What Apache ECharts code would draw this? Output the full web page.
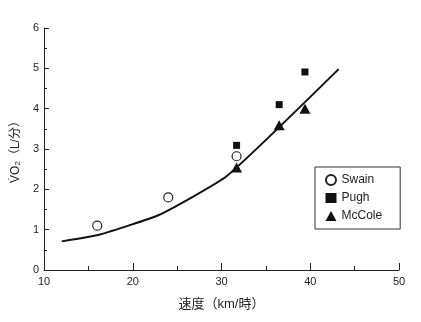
<!DOCTYPE html>
<html><head><meta charset="utf-8">
<script src="https://cdn.jsdelivr.net/npm/echarts@6/dist/echarts.min.js"></script>
<style>html,body{margin:0;padding:0;background:#fff}#c{width:421px;height:322px}</style>
</head><body><div id="c"></div>
<script>
var swain = [[16.0, 1.10], [24.0, 1.80], [31.7, 2.82]];
var pugh = [[31.7, 3.09], [36.5, 4.10], [39.4, 4.91]];
var mccole = [[31.7, 2.54], [36.5, 3.59], [39.4, 4.00]];
var fitLine = [[12.0, 0.71], [16.3, 0.88], [23.0, 1.37], [30.6, 2.33], [43.2, 4.98]];
var xTicks = [10, 20, 30, 40, 50];
var yTicks = [0, 1, 2, 3, 4, 5, 6];

var FONT = '"Liberation Sans", Arial, "Noto Sans CJK JP", sans-serif';
var INK = '#222';
var chart = echarts.init(document.getElementById('c'), null, {renderer: 'canvas'});
chart.setOption({
  animation: false,
  backgroundColor: '#fff',
  textStyle: {fontFamily: FONT, color: INK},
  grid: {left: 44, right: 22, top: 28, bottom: 52, containLabel: false},
  legend: {
    data: ['Swain', 'Pugh', 'McCole'],
    orient: 'vertical', left: 315, top: 167,
    padding: [7, 18, 7, 10], itemGap: 6, itemWidth: 11, itemHeight: 10,
    borderColor: '#333', borderWidth: 1,
    textStyle: {fontSize: 12, color: INK, fontFamily: FONT}
  },
  xAxis: {
    type: 'value', min: xTicks[0], max: xTicks[xTicks.length - 1], interval: 10,
    name: '速度（km/時）', nameLocation: 'middle', nameGap: 28,
    nameTextStyle: {fontSize: 13, color: INK, fontFamily: FONT},
    axisLine: {lineStyle: {color: INK, width: 1}},
    axisTick: {show: true, inside: true, length: 7, lineStyle: {color: INK}},
    minorTick: {show: true, splitNumber: 2, length: 4, lineStyle: {color: INK}},
    axisLabel: {fontSize: 11, color: INK, margin: 6},
    splitLine: {show: false}
  },
  yAxis: {
    type: 'value', min: yTicks[0], max: yTicks[yTicks.length - 1], interval: 1,
    name: '{a|V̇O}{s|2}{a|（L/分）}', nameLocation: 'middle', nameGap: 17, nameRotate: 90,
    nameTextStyle: {
      rich: {
        a: {fontSize: 12, color: INK, fontFamily: FONT},
        s: {fontSize: 8, color: INK, fontFamily: FONT, verticalAlign: 'bottom', padding: [4, 0, 0, 0]}
      }
    },
    axisLine: {show: true, lineStyle: {color: INK, width: 1}},
    axisTick: {show: true, inside: true, length: 5, lineStyle: {color: INK}},
    minorTick: {show: true, splitNumber: 2, length: 3, lineStyle: {color: INK}},
    axisLabel: {fontSize: 11, color: INK, margin: 5},
    splitLine: {show: false}
  },
  series: [
    {name: 'fit', type: 'line', data: fitLine, showSymbol: false, symbol: 'none', smooth: 0.15,
     lineStyle: {color: '#111', width: 2}, silent: true, z: 1},
    {name: 'Swain', type: 'scatter', data: swain, symbol: 'circle', symbolSize: 9,
     itemStyle: {color: '#fff', borderColor: '#222', borderWidth: 1.2, opacity: 1}, z: 3},
    {name: 'Pugh', type: 'scatter', data: pugh, symbol: 'rect', symbolSize: 7,
     itemStyle: {color: '#111', opacity: 1}, z: 3},
    {name: 'McCole', type: 'scatter', data: mccole, symbol: 'triangle', symbolSize: [11, 10],
     itemStyle: {color: '#111', opacity: 1}, z: 3}
  ]
});
</script></body></html>
